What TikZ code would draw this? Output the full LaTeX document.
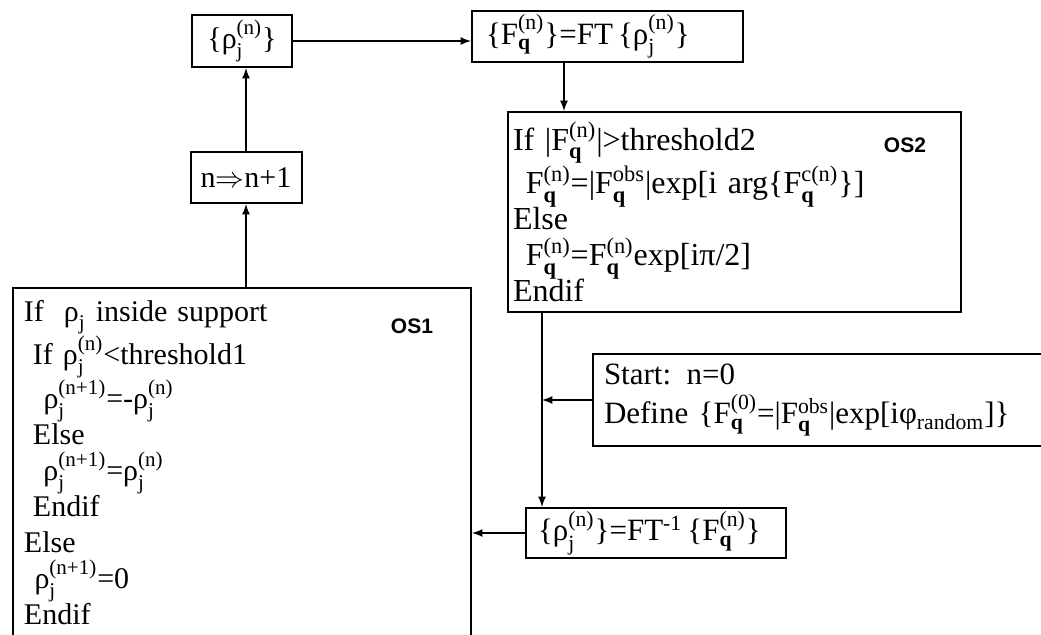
\documentclass[tikz,border=0pt]{standalone}
\usepackage{amsmath}
\usepackage{fontspec}
\setmainfont{Liberation Serif}
\newfontfamily\labelsans{Liberation Sans}
\usetikzlibrary{arrows,positioning}
\setlength{\lineskiplimit}{-20pt}
\newcommand{\rhoj}[1]{ρ\ensuremath{^{\text{#1}}_{\text{j}}}}
\newcommand{\Fq}[1]{F\ensuremath{^{\text{#1}}_{\textbf{q}}}}
\tikzset{
    block/.style={
    rectangle,draw=black,line width=1pt,inner ysep=0pt,align=left
    },
    oslabel/.style={
    font=\labelsans\bfseries\fontsize{10.5}{12}\selectfont
    },
    flow/.style={
    ->,>=latex,line width=0.8pt
    },
}

\begin{document}
\begin{tikzpicture}[x=0.5pt,y=-0.5pt,font=\fontsize{15}{18.75}\selectfont]
   \useasboundingbox (0,0) rectangle (1041,634);

   %top row
   \node[block,align=center,inner xsep=0pt,minimum width=50pt,minimum height=26pt] (rhobox) at (242,41) {\{\rhoj{(n)}\}};
   \node[block,anchor=north west,text width=121.5pt,inner xsep=7pt,minimum height=25.5pt,font=\fontsize{15.5}{18}\selectfont] (ftbox) at (471,10) {\{\Fq{(n)}\}=FT\,\{\rhoj{(n)}\}};
   \node[block,align=center,inner xsep=0pt,minimum width=55.5pt,minimum height=25.5pt] (nbox) at (246,177.5) {n\ensuremath{\Rightarrow}n+1};

   %OS2 step in reciprocal space
   \node[block,anchor=north west,text width=221.5pt,inner xsep=2.5pt,minimum height=100pt,font=\fontsize{16}{18}\selectfont] (os2) at (507,111) {If |\Fq{(n)}|>threshold2\\
      \hspace*{0.4em}\Fq{(n)}=|\Fq{obs}|exp[i arg\{\Fq{c(n)}\}]\\
      Else\\
      \hspace*{0.4em}\Fq{(n)}=\Fq{(n)}exp[iπ/2]\\
      Endif};
   \node[oslabel] (os2lbl) at (905,145) {OS2};

   %start and inverse transform
   \node[block,anchor=north west,text width=223pt,inner xsep=5.5pt,minimum height=46pt,font=\fontsize{15.5}{19.5}\selectfont] (start) at (592,353) {Start: n=0\\
      Define \{\Fq{(0)}=|\Fq{obs}|exp[iφ\ensuremath{_{\text{random}}}]\}};
   \node[block,anchor=north west,text width=118pt,inner xsep=6pt,minimum height=25pt,font=\fontsize{15.5}{18}\selectfont] (fti) at (525,507) {\{\rhoj{(n)}\}=FT\textsuperscript{-1}\,\{\Fq{(n)}\}};

   %OS1 step in real space
   \node[block,anchor=north west,text width=218pt,inner xsep=5.5pt,inner ysep=6pt,font=\fontsize{15}{18}\selectfont] (os1) at (12,287) {If\ \ \rhoj{} inside support\\
      \hspace*{0.3em}If \rhoj{(n)}<threshold1\\
      \hspace*{0.65em}\rhoj{(n+1)}=-\rhoj{(n)}\\
      \hspace*{0.3em}Else\\
      \hspace*{0.65em}\rhoj{(n+1)}=\rhoj{(n)}\\
      \hspace*{0.3em}Endif\\
      Else\\
      \hspace*{0.35em}\rhoj{(n+1)}=0\\
      Endif\rule[-24pt]{0pt}{1pt}};
   \node[oslabel] (os1lbl) at (412,326) {OS1};

   \coordinate (ftout) at ([xshift=46.5pt]ftbox.south west);
   \coordinate (os2out) at ([xshift=17.5pt]os2.south west);

   \draw[flow] (rhobox.east) -- (rhobox.east -| ftbox.west);
   \draw[flow] (ftout) -- (ftout |- os2.north);
   \draw[flow] (os2out) -- (os2out |- fti.north);
   \draw[flow] (start.west) -- (start.west -| os2out);
   \draw[flow] (fti.west) -- (fti.west -| os1.east);
   \draw[flow] (nbox.south |- os1.north) -- (nbox.south);
   \draw[flow] (nbox.north) -- (nbox.north |- rhobox.south);
\end{tikzpicture}
\end{document}
